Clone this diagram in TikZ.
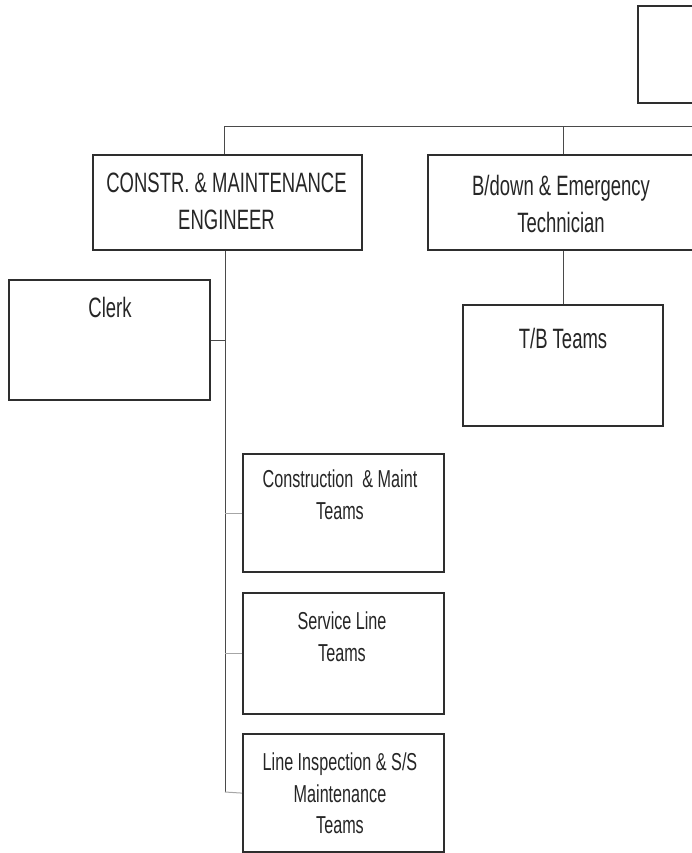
\documentclass[tikz,border=0pt]{standalone}
\usepackage{fontspec}
\setmainfont[FakeStretch=0.66]{Liberation Sans}
\definecolor{boxline}{HTML}{2E2E2E}
\definecolor{wire}{HTML}{4A4A4A}
\definecolor{ink}{HTML}{262626}
\begin{document}
\begin{tikzpicture}[x=1pt,y=-1pt,
  orgbox/.style={draw=boxline,line width=2.2pt,fill=white,inner sep=0pt},
  headtxt/.style={text=ink,align=center,inner sep=0pt,anchor=north,font=\fontsize{28}{37}\selectfont},
  teamtxt/.style={text=ink,align=center,inner sep=0pt,anchor=north,font=\fontsize{24.5}{31.5}\selectfont},
  wireline/.style={draw=wire,line width=1pt},
  tick/.style={draw=gray!70,line width=1pt}]
\clip (0,0) rectangle (692,853);

% upper level box (runs past the right edge)
\node[orgbox,anchor=north west,minimum width=130pt,minimum height=97pt] (top) at (637,5) {};

% second level
\node[orgbox,anchor=north west,minimum width=269pt,minimum height=95pt] (constr) at (92,154) {};
\node[headtxt] (constrT) at (226.5,173) {CONSTR. \& MAINTENANCE\\ENGINEER};
\node[orgbox,anchor=north west,minimum width=300pt,minimum height=95pt] (bdown) at (427,154) {};
\node[headtxt] (bdownT) at (561,175) {B/down \& Emergency\\Technician};

% third level
\node[orgbox,anchor=north west,minimum width=201pt,minimum height=120pt] (clerk) at (8,279) {};
\node[headtxt] (clerkT) at (110,297) {Clerk};
\node[orgbox,anchor=north west,minimum width=200pt,minimum height=121pt] (tb) at (462,304) {};
\node[headtxt] (tbT) at (563,328) {T/B Teams};

% team boxes under the engineer
\node[orgbox,anchor=north west,minimum width=201pt,minimum height=118pt] (cm) at (242,453) {};
\node[teamtxt] (cmT) at (340,470) {Construction~~\& Maint\\Teams};
\node[orgbox,anchor=north west,minimum width=201pt,minimum height=121pt] (sl) at (242,592) {};
\node[teamtxt] (slT) at (342,612) {Service Line\\Teams};
\node[orgbox,anchor=north west,minimum width=201pt,minimum height=118pt] (li) at (242,733) {};
\node[teamtxt] (liT) at (340,753) {Line Inspection \& S/S\\Maintenance\\Teams};

% bus and spine points
\coordinate (busW) at (224,127);
\coordinate (busE) at (700,127);
\coordinate (spine) at (225,792);

% connectors
\draw[wireline] (busE) -- (busW) -- (busW |- constr.north);
\draw[wireline] (tb.north |- busE) -- (tb.north |- bdown.north);
\draw[wireline] (tb.north |- bdown.south) -- (tb.north);
\draw[wireline] (spine |- constr.south) -- (spine);
\draw[wireline] (clerk.east) -- (clerk.east -| spine);
\draw[tick] (cm.west) -- (cm.west -| spine);
\draw[tick] (sl.west) -- (sl.west -| spine);
\draw[tick] (li.west) -- (spine);
\end{tikzpicture}
\end{document}
